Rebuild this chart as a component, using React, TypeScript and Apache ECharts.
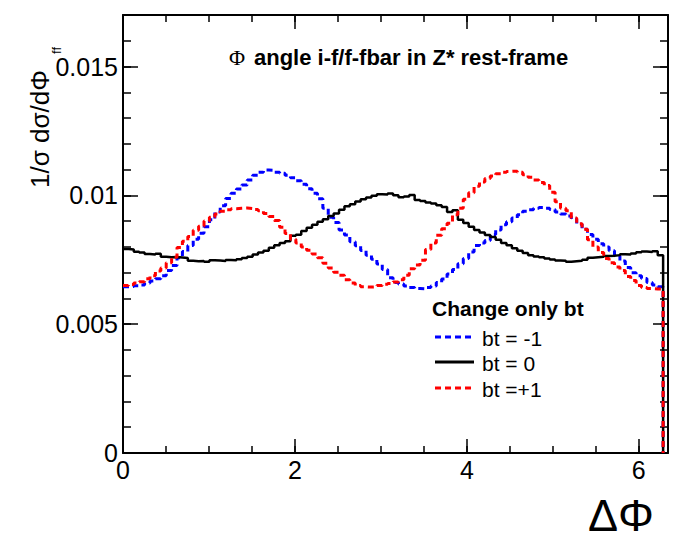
import React, { useEffect, useRef } from "react";
import * as echarts from "echarts";

// Histogram: 100 bins over [0, 2π]
const NBINS = 100;
const X_MAX_AXIS = 6.34;
const Y_MAX_AXIS = 0.017;

const seriesNames = ["bt = -1", "bt = 0", "bt =+1"];

const btMinus1 = [
  0.00645, 0.00646, 0.00649, 0.00652, 0.0066, 0.00668, 0.00676, 0.00688, 0.00708, 0.00728,
  0.00758, 0.00782, 0.00805, 0.0083, 0.00853, 0.00878, 0.00905, 0.00935, 0.0096, 0.00988,
  0.01008, 0.01025, 0.0104, 0.0106, 0.01078, 0.0109, 0.01098, 0.01097, 0.0109, 0.01086,
  0.01078, 0.01068, 0.01057, 0.01043, 0.01026, 0.01008, 0.00987, 0.0095, 0.00915, 0.00895,
  0.00866, 0.00846, 0.0082, 0.00804, 0.00786, 0.00768, 0.00752, 0.00734, 0.00712, 0.0068,
  0.00662, 0.00656, 0.00648, 0.00642, 0.00638, 0.00637, 0.00642, 0.00648, 0.00662, 0.00675,
  0.00695, 0.00712, 0.00735, 0.00755, 0.0078, 0.00805, 0.00815, 0.00825, 0.00848, 0.00866,
  0.00886, 0.00898, 0.00912, 0.00925, 0.00938, 0.00944, 0.0095, 0.00953, 0.0095, 0.00945,
  0.00935, 0.00928, 0.0092, 0.00908, 0.00888, 0.00868, 0.00848, 0.0083, 0.00812, 0.008,
  0.00785, 0.00766, 0.00745, 0.0072, 0.007, 0.00688, 0.00677, 0.00662, 0.00652, 0.00645,
];

const bt0 = [
  0.00792, 0.0079, 0.00781, 0.00778, 0.00772, 0.0077, 0.00773, 0.00762, 0.0076, 0.00761,
  0.00759, 0.00757, 0.00746, 0.00744, 0.00745, 0.00742, 0.00748, 0.00747, 0.00745, 0.00749,
  0.00748, 0.00752, 0.00757, 0.00762, 0.0077, 0.00778, 0.00785, 0.00797, 0.00806, 0.00815,
  0.00822, 0.00843, 0.00847, 0.00862, 0.00874, 0.00886, 0.00898, 0.00907, 0.0092, 0.0093,
  0.00944, 0.00958, 0.00965, 0.00976, 0.00985, 0.00992, 0.00998, 0.01004, 0.01003, 0.01007,
  0.01, 0.00993, 0.00996, 0.01001, 0.00982, 0.00978, 0.00972, 0.00968, 0.00962, 0.00955,
  0.00935, 0.00942, 0.00905, 0.00893, 0.00878, 0.00866, 0.00856, 0.00846, 0.00838, 0.00828,
  0.00815, 0.00806, 0.00795, 0.00785, 0.00776, 0.00768, 0.00763, 0.0076, 0.00755, 0.00751,
  0.00747, 0.00746, 0.00742, 0.00744, 0.00746, 0.0075, 0.00758, 0.0076, 0.00762, 0.00765,
  0.00766, 0.00768, 0.00771, 0.0077, 0.00774, 0.00779, 0.00782, 0.0078, 0.00783, 0.00768,
];

const btPlus1 = [
  0.0065, 0.00654, 0.0066, 0.00665, 0.00676, 0.00688, 0.00706, 0.00718, 0.00738, 0.0076,
  0.00798, 0.00822, 0.0084, 0.00865, 0.0088, 0.009, 0.00915, 0.00928, 0.00938, 0.00944,
  0.00948, 0.0095, 0.00951, 0.00949, 0.00945, 0.0094, 0.0093, 0.00918, 0.00902, 0.00876,
  0.00852, 0.0083, 0.00815, 0.008, 0.00787, 0.00772, 0.00758, 0.00736, 0.00718, 0.00702,
  0.0069, 0.00672, 0.0066, 0.0065, 0.00645, 0.00644, 0.00645, 0.0065, 0.00655, 0.00658,
  0.00664, 0.00672, 0.0069, 0.00715, 0.0073, 0.00748, 0.0079, 0.00815, 0.00845, 0.0087,
  0.00892, 0.00925, 0.0095, 0.00985, 0.0101, 0.01035, 0.01052, 0.01065, 0.01075, 0.01084,
  0.0109, 0.01093, 0.01094, 0.0109, 0.0108, 0.0107, 0.0106, 0.0105, 0.01038, 0.01012,
  0.00975, 0.0095, 0.0094, 0.00912, 0.0089, 0.00868, 0.00828, 0.008, 0.00778, 0.00755,
  0.00738, 0.00722, 0.00708, 0.00685, 0.0067, 0.0065, 0.00642, 0.00638, 0.00637, 0.00636,
];

const FONT = "'Liberation Sans', Arial, Helvetica, sans-serif";

function toSteps(vals: number[]): number[][] {
  const bw = (2 * Math.PI) / NBINS;
  const pts = vals.map((v, i) => [i * bw, v]);
  pts.push([NBINS * bw, vals[vals.length - 1]]);
  pts.push([NBINS * bw, 0]);
  return pts;
}

export default function App() {
  const ref = useRef<HTMLDivElement>(null);

  useEffect(() => {
    if (!ref.current) return;
    const chart = echarts.init(ref.current, null, { renderer: "svg" });

    const frameLine = { show: true, onZero: false, lineStyle: { color: "#000", width: 2 } };
    const noLine = { show: false, onZero: false };
    const mkX = (pos: string, interval: number, len: number, withLine: boolean, withLabel: boolean) => ({
      type: "value",
      position: pos,
      min: 0,
      max: X_MAX_AXIS,
      interval,
      axisLine: withLine ? frameLine : noLine,
      axisTick: { show: true, inside: true, length: len, lineStyle: { color: "#000", width: 1.5 } },
      axisLabel: withLabel
        ? { show: true, color: "#000", fontSize: 25, fontFamily: FONT, margin: 4, showMaxLabel: false }
        : { show: false },
      splitLine: { show: false },
    });
    const mkY = (pos: string, interval: number, len: number, withLine: boolean, withLabel: boolean) => ({
      type: "value",
      position: pos,
      min: 0,
      max: Y_MAX_AXIS,
      interval,
      axisLine: withLine ? frameLine : noLine,
      axisTick: { show: true, inside: true, length: len, lineStyle: { color: "#000", width: 1.5 } },
      axisLabel: withLabel
        ? { show: true, color: "#000", fontSize: 25, fontFamily: FONT, margin: 5, showMaxLabel: false }
        : { show: false },
      splitLine: { show: false },
    });

    const legendItems = [
      { name: seriesNames[0], color: "#0000ff", dash: [6, 4], y: 337 },
      { name: seriesNames[1], color: "#000000", dash: null, y: 362 },
      { name: seriesNames[2], color: "#ff0000", dash: [6, 4], y: 388 },
    ];

    const graphics: any[] = [
      {
        type: "text",
        x: 229,
        y: 57,
        style: {
          text: "Φ",
          fontFamily: "'Liberation Serif', 'DejaVu Serif', serif",
          fontSize: 22,
          fill: "#000",
          align: "left",
          verticalAlign: "middle",
        },
      },
      {
        type: "text",
        x: 254,
        y: 57,
        style: {
          text: "angle i-f/f-fbar in Z* rest-frame",
          fontFamily: FONT,
          fontSize: 22,
          fontWeight: "bold",
          fill: "#000",
          align: "left",
          verticalAlign: "middle",
        },
      },
      {
        type: "text",
        x: 53,
        y: 188,
        rotation: Math.PI / 2,
        style: {
          text: "1/σ dσ/dΦ",
          fontFamily: FONT,
          fontSize: 26,
          fill: "#000",
          align: "left",
          verticalAlign: "bottom",
        },
      },
      {
        type: "text",
        x: 63,
        y: 54,
        rotation: Math.PI / 2,
        style: {
          text: "ff",
          fontFamily: FONT,
          fontSize: 13,
          fill: "#000",
          align: "left",
          verticalAlign: "bottom",
        },
      },
      {
        type: "text",
        x: 654,
        y: 538,
        style: {
          text: "ΔΦ",
          fontFamily: FONT,
          fontSize: 45,
          fill: "#000",
          align: "right",
          verticalAlign: "bottom",
        },
      },
      {
        type: "text",
        x: 432,
        y: 308,
        style: {
          text: "Change only bt",
          fontFamily: FONT,
          fontSize: 21,
          fontWeight: "bold",
          fill: "#000",
          align: "left",
          verticalAlign: "middle",
        },
      },
    ];
    legendItems.forEach((it) => {
      graphics.push({
        type: "line",
        shape: { x1: 435, y1: it.y, x2: 474, y2: it.y },
        style: { stroke: it.color, lineWidth: 3, lineDash: it.dash || undefined },
      });
      graphics.push({
        type: "text",
        x: 482,
        y: it.y + 1,
        style: {
          text: it.name,
          fontFamily: FONT,
          fontSize: 21,
          fill: "#000",
          align: "left",
          verticalAlign: "middle",
        },
      });
    });

    const option: any = {
      animation: false,
      backgroundColor: "#ffffff",
      grid: { left: 123, right: 7, top: 15, bottom: 89, containLabel: false },
      xAxis: [
        mkX("bottom", 2, 14, true, true),
        mkX("bottom", 0.5, 7, false, false),
        mkX("top", 2, 14, true, false),
        mkX("top", 0.5, 7, false, false),
      ],
      yAxis: [
        mkY("left", 0.005, 15, true, true),
        mkY("left", 0.001, 8, false, false),
        mkY("right", 0.005, 15, true, false),
        mkY("right", 0.001, 8, false, false),
      ],
      series: [
        {
          name: seriesNames[0],
          type: "line",
          step: "end",
          xAxisIndex: 0,
          yAxisIndex: 0,
          symbol: "none",
          silent: true,
          data: toSteps(btMinus1),
          lineStyle: { color: "#0000ff", width: 3, type: [6, 4] },
        },
        {
          name: seriesNames[1],
          type: "line",
          step: "end",
          xAxisIndex: 0,
          yAxisIndex: 0,
          symbol: "none",
          silent: true,
          data: toSteps(bt0),
          lineStyle: { color: "#000000", width: 2.5, type: "solid" },
        },
        {
          name: seriesNames[2],
          type: "line",
          step: "end",
          xAxisIndex: 0,
          yAxisIndex: 0,
          symbol: "none",
          silent: true,
          data: toSteps(btPlus1),
          lineStyle: { color: "#ff0000", width: 3, type: [6, 4] },
        },
      ],
      graphic: graphics,
    };

    chart.setOption(option);
    return () => chart.dispose();
  }, []);

  return (
    <div
      ref={ref}
      style={{ position: "absolute", left: 0, top: 0, width: 675, height: 542, background: "#fff" }}
    />
  );
}
